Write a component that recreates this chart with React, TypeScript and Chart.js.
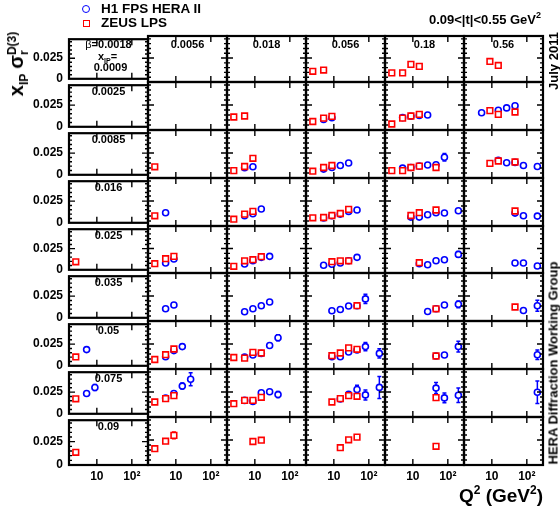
import React, { useEffect, useRef } from 'react';
import { Chart, registerables } from 'chart.js';

Chart.register(...registerables);

const _ = null;

// Q^2 bin centres (GeV^2)
const q2Bins = [2.5, 5.1, 8.8, 15.3, 26.5, 46, 80, 200];
// beta (columns) and x_IP (rows)
const betaLabels = ['0.0018', '0.0056', '0.018', '0.056', '0.18', '0.56'];
const xpomLabels = ['0.0009', '0.0025', '0.0085', '0.016', '0.025', '0.035', '0.05', '0.075', '0.09'];
const yTicks = [0, 0.025];
const yTickLabels = ['0', '0.025'];
const xTicks = [10, 100];
const xTickLabels = ['10', '10²'];

// ZEUS LPS: per x_IP row, per beta column, values at the q2Bins
const zeusX0009 = [[], [], [], [0.0112, 0.0125], [0.0095, 0.0095, 0.0184, 0.0163], [_, _, 0.0214, 0.0173]];
const zeusX0025 = [[], [], [0.013, 0.014], [0.0085, 0.0119, 0.0136], [0.006, 0.0119, 0.014, 0.0156], [_, _, 0.0194, 0.0156, _, 0.018]];
const zeusX0085 = [[], [0.0112], [0.0074, 0.0115, 0.0197], [0.0068, 0.0105, 0.0125], [0.0074, 0.0074, 0.0105, 0.0119, _, 0.0105], [_, _, 0.0146, 0.017, _, 0.016]];
const zeusX016 = [[], [0.0102], [0.0068, 0.0119, 0.0146], [0.0082, 0.0085, 0.0105, 0.0125, 0.0166], [_, _, 0.0105, 0.0133, _, 0.016], [_, _, _, _, _, 0.015]];
const zeusX025 = [[0.0095], [0.0095, 0.0146, 0.017], [0.0068, 0.0125, 0.0136, 0.0166], [_, _, 0.0115, 0.0125, 0.0125], [_, _, _, 0.0105], []];
const zeusX035 = [[], [], [], [_, _, _, _, _, 0.0153], [_, _, _, _, _, 0.0122], [_, _, _, _, _, 0.014]];
const zeusX05 = [[0.0102], [0.0095, 0.0143, 0.02], [0.0115, 0.0109, 0.0166, 0.016], [_, _, 0.0133, 0.016, 0.0211, 0.0197], [_, _, _, _, _, 0.013], []];
const zeusX075 = [[0.0173], [0.015, 0.0184, 0.0214], [0.0133, 0.0166, 0.0166, 0.0197], [_, _, 0.015, 0.0184, 0.0214, 0.0207], [_, _, _, _, _, 0.0194], []];
const zeusX09 = [[0.0136], [0.0163, 0.0238, 0.0296], [_, _, 0.0235, 0.0248], [_, _, _, 0.0173, 0.0252, 0.0279], [_, _, _, _, _, 0.0187], []];

// H1 FPS HERA II
const h1X0009 = [[], [], [], [], [], []];
const h1X0025 = [[], [], [], [_, 0.0105, 0.0122], [_, 0.0124, 0.0138, 0.0146, 0.015], [_, 0.0173, _, 0.0197, 0.0221, 0.0243]];
const h1X0085 = [[], [], [_, 0.0102, 0.0112], [_, 0.0089, 0.0105, 0.0125, 0.015], [_, 0.0099, 0.0105, 0.0119, 0.013, 0.0133, 0.0207], [_, _, _, 0.0177, 0.0153, 0.0156, 0.0125, 0.0115]];
const h1X016 = [[], [_, 0.0133], [_, 0.0102, 0.0122, 0.017], [_, 0.008, 0.0102, 0.0119, 0.0146, 0.016], [_, _, 0.0089, 0.0089, 0.0112, 0.0133, 0.013, 0.0153], [_, _, _, _, _, 0.0129, 0.0102, 0.0099]];
const h1X025 = [[], [_, 0.0102, 0.0143], [_, 0.0092, 0.0125, 0.016, 0.017], [_, 0.0079, 0.0089, 0.0102, 0.0125, 0.016], [_, _, _, 0.0095, 0.0085, 0.0125, 0.0136, 0.019], [_, _, _, _, _, 0.0102, 0.0102, 0.0071]];
const h1X035 = [[], [_, 0.0122, 0.016], [_, 0.0092, 0.0122, 0.0153, 0.019], [_, _, 0.0102, 0.0115, 0.015, 0.0153, 0.0221], [_, _, _, _, 0.0095, 0.0122, 0.016, 0.0167], [_, _, _, _, _, _, 0.0105, 0.0153]];
const h1X05 = [[_, 0.0187], [_, 0.0122, 0.0184, 0.0224], [_, 0.0119, 0.014, 0.0156, 0.0235, 0.0313], [_, _, 0.0122, 0.0122, 0.017, 0.019, 0.0224, 0.0156], [_, _, _, _, _, 0.013, 0.014, 0.0224], [_, _, _, _, _, _, _, 0.0143]];
const h1X075 = [[_, 0.0235, 0.0303], [_, 0.019, 0.0235, 0.0309, 0.0377], [_, 0.0166, 0.0156, 0.0242, 0.0252, 0.0224], [_, _, _, 0.018, 0.0228, 0.0275, 0.0221, 0.0296], [_, _, _, _, _, 0.0289, 0.0191, 0.0217], [_, _, _, _, _, _, _, 0.0248]];
const h1X09 = [[], [], [], [], [], []];

const zeusRows = [zeusX0009, zeusX0025, zeusX0085, zeusX016, zeusX025, zeusX035, zeusX05, zeusX075, zeusX09];
const h1Rows = [h1X0009, h1X0025, h1X0085, h1X016, h1X025, h1X035, h1X05, h1X075, h1X09];

// visible uncertainties: [row, column, q2 bin index, error]
const h1Errors = [
  [2, 4, 6, 0.0037], [3, 4, 7, 0.002], [4, 4, 7, 0.003], [5, 3, 6, 0.0046], [5, 4, 7, 0.0034],
  [5, 5, 7, 0.0055], [6, 1, 3, 0.002], [6, 2, 5, 0.003], [6, 3, 6, 0.0042], [6, 3, 7, 0.0046],
  [6, 4, 7, 0.0053], [6, 5, 7, 0.0048], [7, 0, 2, 0.0034], [7, 1, 3, 0.003], [7, 1, 4, 0.0065],
  [7, 2, 4, 0.002], [7, 2, 5, 0.003], [7, 3, 5, 0.0042], [7, 3, 6, 0.005], [7, 3, 7, 0.011],
  [7, 4, 5, 0.0055], [7, 4, 6, 0.0048], [7, 4, 7, 0.0073], [7, 5, 7, 0.0113],
];
const zeusErrors = [[8, 1, 2, 0.0034]];

const FONT = "'Liberation Sans', Arial, Helvetica, sans-serif";
const NROWS = 9;
const NCOLS = 6;
const X0 = 69;
const PW = 79;
const Y0 = 35;
const PH = 47.78;
const PAD = 10;
const YAXIS_W = 60;
const XAXIS_H = 30;
const colEdge = (c: number) => Math.round(X0 + c * PW);
const rowEdge = (r: number) => (r === 0 ? 36 : Math.floor(Y0 + r * PH));

const errFor = (list: number[][], r: number, c: number, i: number) => {
  const f = list.find((e) => e[0] === r && e[1] === c && e[2] === i);
  return f ? f[3] : 0;
};

const panelDecor = {
  id: 'panelDecor',
  beforeDatasetsDraw(chart: any) {
    const { ctx } = chart;
    const xs = chart.scales.x;
    const ys = chart.scales.y;
    chart.data.datasets.forEach((ds: any) => {
      ctx.save();
      ctx.strokeStyle = ds.borderColor;
      ctx.lineWidth = 1.5;
      ds.data.forEach((p: any) => {
        if (!p.e) return;
        const px = xs.getPixelForValue(p.x);
        const y1 = ys.getPixelForValue(p.y - p.e);
        const y2 = ys.getPixelForValue(p.y + p.e);
        ctx.beginPath();
        ctx.moveTo(px, y1);
        ctx.lineTo(px, y2);
        ctx.moveTo(px - 2, y1);
        ctx.lineTo(px + 2, y1);
        ctx.moveTo(px - 2, y2);
        ctx.lineTo(px + 2, y2);
        ctx.stroke();
      });
      ctx.restore();
    });
  },
  afterDraw(chart: any) {
    const { ctx, chartArea: a } = chart;
    const xs = chart.scales.x;
    const ys = chart.scales.y;
    ctx.save();
    ctx.strokeStyle = '#000';
    ctx.lineWidth = 1.4;
    ctx.beginPath();
    for (let k = 1; k * 0.005 < ys.max; k++) {
      const v = k * 0.005;
      const len = k === 5 ? 6 : 3;
      const y = ys.getPixelForValue(v);
      ctx.moveTo(a.left, y);
      ctx.lineTo(a.left + len, y);
      ctx.moveTo(a.right, y);
      ctx.lineTo(a.right - len, y);
    }
    xTicks.forEach((v) => {
      const x = xs.getPixelForValue(v);
      ctx.moveTo(x, a.bottom);
      ctx.lineTo(x, a.bottom - 6);
      ctx.moveTo(x, a.top);
      ctx.lineTo(x, a.top + 6);
    });
    ctx.stroke();
    ctx.lineWidth = 2.2;
    ctx.strokeRect(a.left, a.top, a.right - a.left, a.bottom - a.top);
    ctx.restore();
  },
};

function Panel({ r, c }: { r: number; c: number }) {
  const ref = useRef<HTMLCanvasElement | null>(null);
  const left = colEdge(c);
  const right = colEdge(c + 1);
  const top = rowEdge(r);
  const bottom = rowEdge(r + 1);
  const showY = c === 0;
  const showX = r === NROWS - 1;
  const padL = showY ? YAXIS_W : PAD;
  const padB = showX ? XAXIS_H : PAD;
  const cl = left - padL;
  const ct = top - PAD;
  const cw = right - left + padL + PAD;
  const ch = bottom - top + PAD + padB;

  useEffect(() => {
    const mk = (vals: (number | null)[], errs: number[][]) =>
      vals
        .map((v, i) => (v == null ? null : { x: q2Bins[i], y: v, e: errFor(errs, r, c, i) }))
        .filter((p) => p !== null);
    const zeusPts = mk(zeusRows[r][c] || [], zeusErrors);
    const h1Pts = mk(h1Rows[r][c] || [], h1Errors);
    const tickFont = { family: FONT, weight: 'bold' as const, size: 12 };
    const chart = new Chart(ref.current as HTMLCanvasElement, {
      type: 'scatter',
      data: {
        datasets: [
          {
            label: 'ZEUS LPS',
            data: zeusPts as any,
            pointStyle: 'rect',
            pointRadius: 4,
            pointBorderWidth: 1.6,
            borderColor: '#ff0000',
            backgroundColor: '#ffffff',
            clip: false as any,
          },
          {
            label: 'H1 FPS HERA II',
            data: h1Pts as any,
            pointStyle: 'circle',
            pointRadius: 3,
            pointBorderWidth: 1.6,
            borderColor: '#0000ff',
            backgroundColor: '#ffffff',
            clip: false as any,
          },
        ],
      },
      options: {
        animation: false,
        responsive: false,
        events: [],
        layout: { padding: { left: showY ? 0 : PAD, right: PAD, top: PAD, bottom: showX ? 0 : PAD } },
        plugins: { legend: { display: false }, tooltip: { enabled: false }, title: { display: false } },
        scales: {
          x: {
            type: 'logarithmic',
            min: 1.6,
            max: 290,
            display: showX,
            grid: { display: false, drawTicks: false },
            border: { display: false },
            afterBuildTicks: (s: any) => {
              s.ticks = xTicks.map((v) => ({ value: v }));
            },
            afterFit: (s: any) => {
              s.height = showX ? XAXIS_H : 0;
            },
            ticks: {
              padding: 4,
              color: '#000',
              font: tickFont,
              maxRotation: 0,
              autoSkip: false,
              callback: (v: any) => xTickLabels[xTicks.indexOf(Number(v))] ?? '',
            },
          },
          y: {
            type: 'linear',
            min: 0,
            max: 0.048,
            display: showY,
            grid: { display: false, drawTicks: false },
            border: { display: false },
            afterBuildTicks: (s: any) => {
              s.ticks = yTicks.map((v) => ({ value: v }));
            },
            afterFit: (s: any) => {
              s.width = showY ? YAXIS_W : 0;
            },
            ticks: {
              padding: 6,
              color: '#000',
              font: tickFont,
              autoSkip: false,
              callback: (v: any) => yTickLabels[yTicks.indexOf(Number(v))] ?? '',
            },
          },
        },
      },
      plugins: [panelDecor],
    });
    return () => chart.destroy();
  }, [r, c]);

  return (
    <canvas
      ref={ref}
      width={cw}
      height={ch}
      style={{ position: 'absolute', left: cl, top: ct, width: cw, height: ch }}
    />
  );
}

const Txt = ({ cx, cy, size, children, rot, anchor }: any) => (
  <div
    style={{
      position: 'absolute',
      left: cx,
      top: cy,
      transform: `translate(${anchor === 'left' ? '0' : anchor === 'right' ? '-100%' : '-50%'},-50%)${rot ? ' rotate(-90deg)' : ''}`,
      whiteSpace: 'nowrap',
      fontWeight: 'bold',
      fontSize: size,
      lineHeight: 1,
      color: '#000',
      fontFamily: FONT,
    }}
  >
    {children}
  </div>
);

export default function App() {
  const panels: any[] = [];
  const labels: any[] = [];
  for (let r = 0; r < NROWS; r++) {
    for (let c = 0; c < NCOLS; c++) {
      panels.push(<Panel key={`p${r}-${c}`} r={r} c={c} />);
    }
  }
  const pc = (c: number) => (colEdge(c) + colEdge(c + 1)) / 2;
  for (let c = 1; c < NCOLS; c++) {
    labels.push(
      <Txt key={`b${c}`} cx={pc(c)} cy={rowEdge(0) + 8} size={11}>
        {betaLabels[c]}
      </Txt>
    );
  }
  for (let r = 1; r < NROWS; r++) {
    labels.push(
      <Txt key={`x${r}`} cx={pc(0)} cy={rowEdge(r) + 8.5} size={11}>
        {xpomLabels[r]}
      </Txt>
    );
  }
  return (
    <div
      style={{
        position: 'absolute',
        left: 0,
        top: 0,
        width: 560,
        height: 509,
        background: '#fff',
        overflow: 'hidden',
        fontFamily: FONT,
      }}
    >
      {panels}
      {labels}
      <Txt cx={pc(0)} cy={44} size={11}>
        <span style={{ fontWeight: 'normal' }}>β</span>={betaLabels[0]}
      </Txt>
      <Txt cx={pc(0) - 1} cy={56} size={11}>
        x<span style={{ fontSize: 7, position: 'relative', top: 3 }}>IP</span>=
      </Txt>
      <Txt cx={pc(0) + 2} cy={67} size={11}>
        {xpomLabels[0]}
      </Txt>

      {/* legend */}
      <div
        style={{
          position: 'absolute', left: 82, top: 4.5, width: 8, height: 8, boxSizing: 'border-box',
          border: '1.7px solid #0000ff', borderRadius: '50%',
        }}
      />
      <div
        style={{
          position: 'absolute', left: 82.5, top: 19.5, width: 7, height: 7, boxSizing: 'border-box',
          border: '1.6px solid #ff0000',
        }}
      />
      <Txt cx={101} cy={8.8} size={13.5} anchor="left">H1 FPS HERA II</Txt>
      <Txt cx={101} cy={23.2} size={13.5} anchor="left">ZEUS LPS</Txt>

      <Txt cx={541} cy={19} size={13} anchor="right">
        0.09&lt;|t|&lt;0.55 GeV<sup style={{ fontSize: 9, lineHeight: 0 }}>2</sup>
      </Txt>

      {/* y title */}
      <Txt cx={18} cy={64} size={20} rot>
        x<span style={{ fontSize: 12, position: 'relative', top: 5 }}>IP</span>
        <span style={{ display: 'inline-block', width: 5 }} />σ
        <span style={{ display: 'inline-block', verticalAlign: 'middle', fontSize: 12, lineHeight: 1, textAlign: 'left' }}>
          <span style={{ display: 'block' }}>D(3)</span>
          <span style={{ display: 'block' }}>r</span>
        </span>
      </Txt>

      {/* x title */}
      <Txt cx={543} cy={495} size={19} anchor="right">
        Q<sup style={{ fontSize: 12, lineHeight: 0 }}>2</sup> (GeV<sup style={{ fontSize: 12, lineHeight: 0 }}>2</sup>)
      </Txt>

      <Txt cx={552.5} cy={61} size={13} rot>July 2011</Txt>
      <Txt cx={552.5} cy={363} size={13} rot>HERA Diffraction Working Group</Txt>
    </div>
  );
}
